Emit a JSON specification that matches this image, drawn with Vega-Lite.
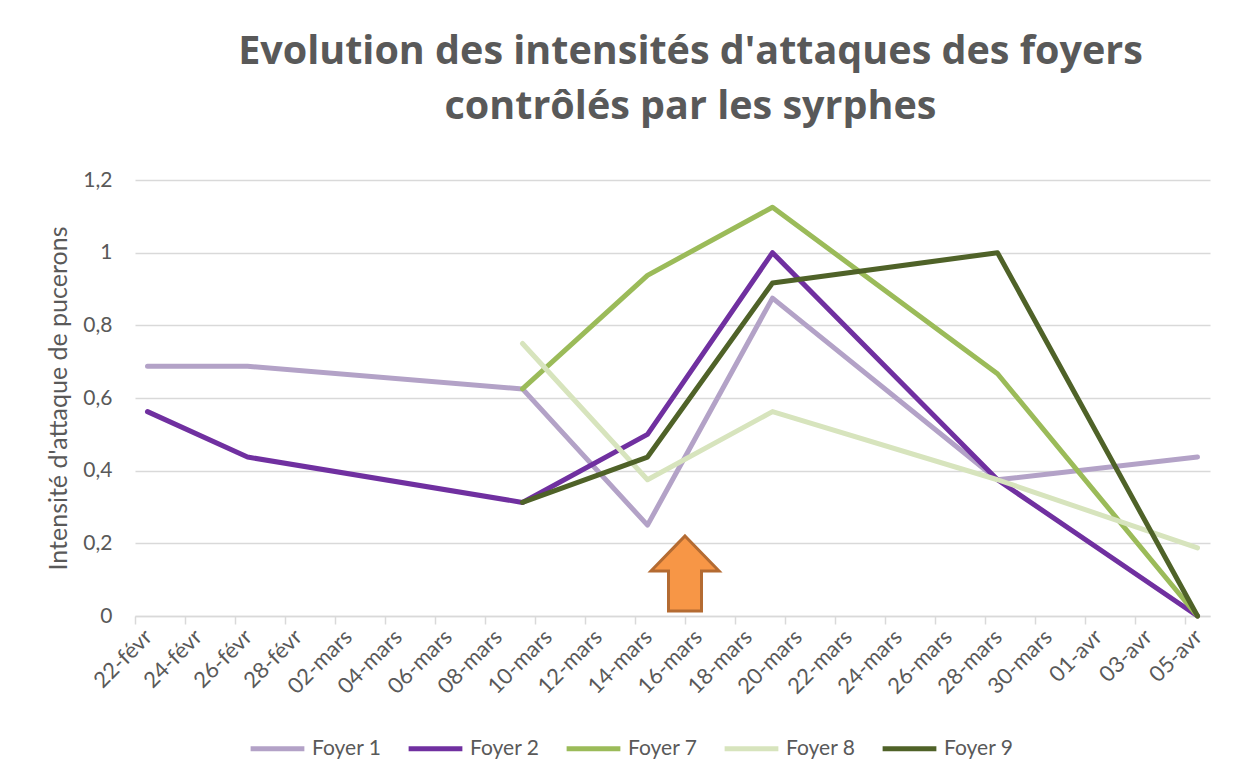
{
  "$schema": "https://vega.github.io/schema/vega-lite/v6.json",
  "autosize": "none",
  "width": 1075,
  "height": 436,
  "padding": {"left": 135, "top": 180, "right": 25, "bottom": 164},
  "background": "white",
  "config": {
    "font": "Lato",
    "view": {"stroke": null},
    "axis": {"labelFont": "Lato", "titleFont": "Lato", "labelColor": "#595959", "titleColor": "#595959"}
  },
  "title": {
    "text": ["Evolution des intensités d'attaques des foyers", "contrôlés par les syrphes"],
    "font": "Open Sans",
    "fontSize": 39.5,
    "fontWeight": "bold",
    "color": "#595959",
    "anchor": "middle",
    "dx": 18,
    "offset": 42,
    "lineHeight": 55
  },
  "datasets": {
    "series": [
      {"foyer": "Foyer 1", "date": "2019-02-22", "value": 0.6875},
      {"foyer": "Foyer 1", "date": "2019-02-26", "value": 0.6875},
      {"foyer": "Foyer 1", "date": "2019-03-09", "value": 0.625},
      {"foyer": "Foyer 1", "date": "2019-03-14", "value": 0.25},
      {"foyer": "Foyer 1", "date": "2019-03-19", "value": 0.875},
      {"foyer": "Foyer 1", "date": "2019-03-28", "value": 0.375},
      {"foyer": "Foyer 1", "date": "2019-04-05", "value": 0.4375},
      {"foyer": "Foyer 2", "date": "2019-02-22", "value": 0.5625},
      {"foyer": "Foyer 2", "date": "2019-02-26", "value": 0.4375},
      {"foyer": "Foyer 2", "date": "2019-03-09", "value": 0.3125},
      {"foyer": "Foyer 2", "date": "2019-03-14", "value": 0.5},
      {"foyer": "Foyer 2", "date": "2019-03-19", "value": 1.0},
      {"foyer": "Foyer 2", "date": "2019-03-28", "value": 0.375},
      {"foyer": "Foyer 2", "date": "2019-04-05", "value": 0},
      {"foyer": "Foyer 7", "date": "2019-03-09", "value": 0.625},
      {"foyer": "Foyer 7", "date": "2019-03-14", "value": 0.9375},
      {"foyer": "Foyer 7", "date": "2019-03-19", "value": 1.125},
      {"foyer": "Foyer 7", "date": "2019-03-28", "value": 0.6667},
      {"foyer": "Foyer 7", "date": "2019-04-05", "value": 0},
      {"foyer": "Foyer 8", "date": "2019-03-09", "value": 0.75},
      {"foyer": "Foyer 8", "date": "2019-03-14", "value": 0.375},
      {"foyer": "Foyer 8", "date": "2019-03-19", "value": 0.5625},
      {"foyer": "Foyer 8", "date": "2019-03-28", "value": 0.375},
      {"foyer": "Foyer 8", "date": "2019-04-05", "value": 0.1875},
      {"foyer": "Foyer 9", "date": "2019-03-09", "value": 0.3125},
      {"foyer": "Foyer 9", "date": "2019-03-14", "value": 0.4375},
      {"foyer": "Foyer 9", "date": "2019-03-19", "value": 0.9167},
      {"foyer": "Foyer 9", "date": "2019-03-28", "value": 1.0},
      {"foyer": "Foyer 9", "date": "2019-04-05", "value": 0}
    ],
    "arrow": [
      {"date": "2019-03-15T12:00:00Z", "value": 0.117}
    ]
  },
  "layer": [
    {
      "data": {"name": "series"},
      "mark": {"type": "line", "strokeWidth": 5, "strokeCap": "round", "strokeJoin": "round"},
      "encoding": {
        "x": {
          "field": "date",
          "type": "temporal",
          "scale": {
            "type": "utc",
            "domain": [
              {"year": 2019, "month": 2, "date": 21, "hours": 12, "utc": true},
              {"year": 2019, "month": 4, "date": 5, "hours": 12, "utc": true}
            ]
          },
          "axis": {
            "title": null,
            "grid": false,
            "values": [
              {"year": 2019, "month": 2, "date": 22, "utc": true},
              {"year": 2019, "month": 2, "date": 24, "utc": true},
              {"year": 2019, "month": 2, "date": 26, "utc": true},
              {"year": 2019, "month": 2, "date": 28, "utc": true},
              {"year": 2019, "month": 3, "date": 2, "utc": true},
              {"year": 2019, "month": 3, "date": 4, "utc": true},
              {"year": 2019, "month": 3, "date": 6, "utc": true},
              {"year": 2019, "month": 3, "date": 8, "utc": true},
              {"year": 2019, "month": 3, "date": 10, "utc": true},
              {"year": 2019, "month": 3, "date": 12, "utc": true},
              {"year": 2019, "month": 3, "date": 14, "utc": true},
              {"year": 2019, "month": 3, "date": 16, "utc": true},
              {"year": 2019, "month": 3, "date": 18, "utc": true},
              {"year": 2019, "month": 3, "date": 20, "utc": true},
              {"year": 2019, "month": 3, "date": 22, "utc": true},
              {"year": 2019, "month": 3, "date": 24, "utc": true},
              {"year": 2019, "month": 3, "date": 26, "utc": true},
              {"year": 2019, "month": 3, "date": 28, "utc": true},
              {"year": 2019, "month": 3, "date": 30, "utc": true},
              {"year": 2019, "month": 4, "date": 1, "utc": true},
              {"year": 2019, "month": 4, "date": 3, "utc": true},
              {"year": 2019, "month": 4, "date": 5, "utc": true}
            ],
            "labelExpr": "pad(utcdate(datum.value), 2, '0', 'left') + '-' + (utcmonth(datum.value) == 1 ? 'févr' : (utcmonth(datum.value) == 2 ? 'mars' : 'avr'))",
            "labelAngle": -45,
            "labelAlign": "right",
            "labelBaseline": "middle",
            "labelFontSize": 22,
            "labelPadding": 9,
            "labelOffset": 13,
            "labelOverlap": false,
            "labelFlush": false,
            "tickOffset": -12.5,
            "tickSize": 8,
            "tickColor": "#d9d9d9",
            "tickWidth": 1.5,
            "domainColor": "#d9d9d9",
            "domainWidth": 1.5
          }
        },
        "y": {
          "field": "value",
          "type": "quantitative",
          "scale": {"domain": [0, 1.2], "nice": false, "zero": true},
          "axis": {
            "title": "Intensité d'attaque de pucerons",
            "titleFontSize": 25,
            "titleFontWeight": "normal",
            "titlePadding": 11,
            "values": [0, 0.2, 0.4, 0.6, 0.8, 1, 1.2],
            "labelExpr": "replace(format(datum.value, '.1~f'), '.', ',')",
            "labelFontSize": 21,
            "labelPadding": 23,
            "domain": false,
            "ticks": false,
            "grid": true,
            "gridColor": "#d9d9d9",
            "gridWidth": 1.5
          }
        },
        "color": {
          "field": "foyer",
          "type": "nominal",
          "scale": {
            "domain": ["Foyer 1", "Foyer 2", "Foyer 7", "Foyer 8", "Foyer 9"],
            "range": ["#B3A2C7", "#7030A0", "#9BBB59", "#D7E4BD", "#4F6228"]
          },
          "legend": {
            "title": null,
            "orient": "none",
            "direction": "horizontal",
            "legendX": 113,
            "legendY": 539,
            "symbolType": "stroke",
            "symbolSize": 2890,
            "symbolStrokeWidth": 5,
            "labelFont": "Lato",
            "labelFontSize": 21,
            "labelColor": "#595959",
            "labelOffset": 5,
            "columnPadding": 16
          }
        }
      }
    },
    {
      "data": {"name": "arrow"},
      "mark": {
        "type": "point",
        "shape": "M0,-1L0.907,-0.067L0.44,-0.067L0.44,1L-0.44,1L-0.44,-0.067L-0.907,-0.067Z",
        "size": 5625,
        "filled": true,
        "fill": "#F79646",
        "stroke": "#B46B32",
        "strokeWidth": 3,
        "opacity": 1
      },
      "encoding": {
        "x": {"field": "date", "type": "temporal"},
        "y": {"field": "value", "type": "quantitative"}
      }
    }
  ]
}
